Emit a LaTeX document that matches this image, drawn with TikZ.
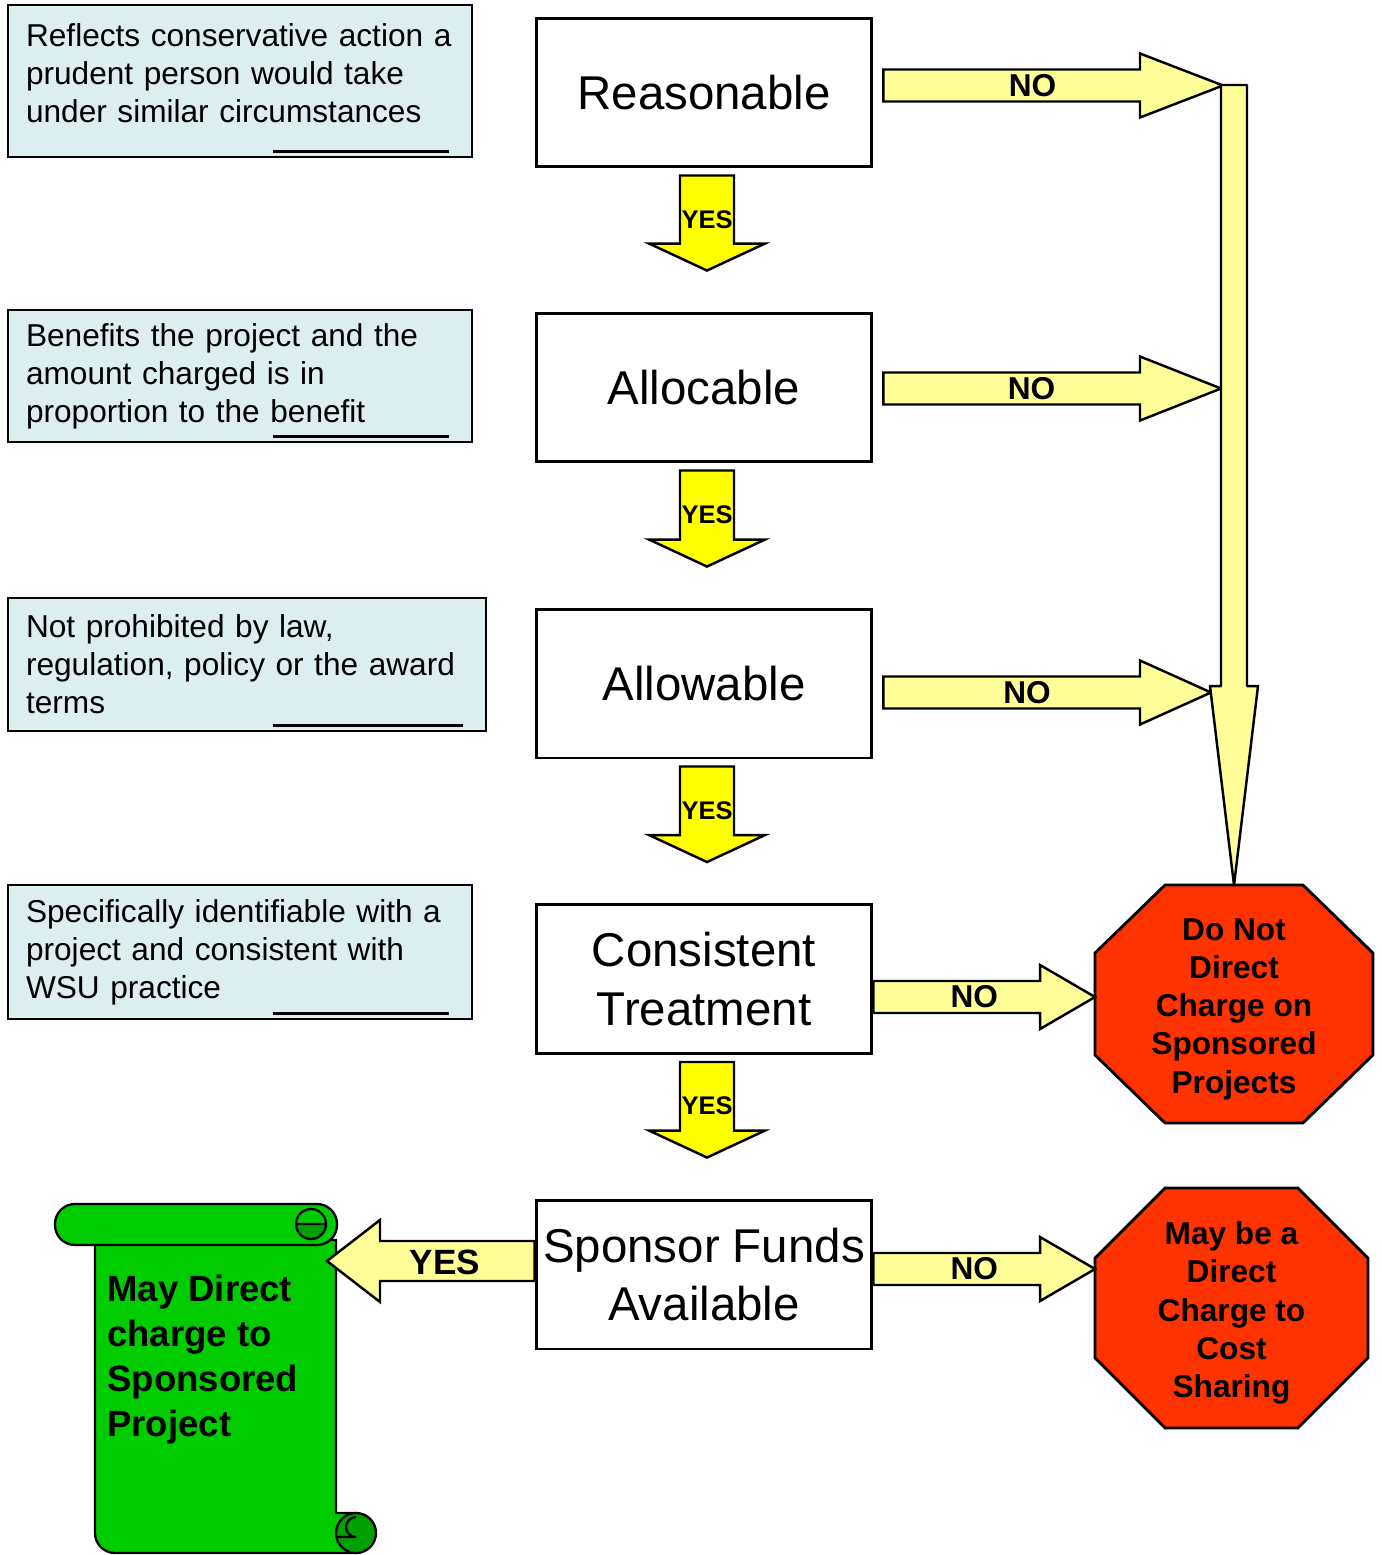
\documentclass[tikz,border=0pt]{standalone}
\usepackage{fontspec}
\setmainfont{Liberation Sans}
\usetikzlibrary{calc}
\definecolor{descblue}{RGB}{221,238,240}
\definecolor{yesyellow}{RGB}{255,255,0}
\definecolor{noyellow}{RGB}{255,255,153}
\definecolor{stopred}{RGB}{255,51,0}
\definecolor{scrollgreen}{RGB}{0,204,0}
\definecolor{curlgreen}{RGB}{0,160,0}

% down arrow between two test boxes
\newcommand{\yesdown}[2]{%
  \draw[yesblock] ($(#1.south)+(-24,7)$) -- ($(#1.south)+(30,7)$) -- ($(#2.north)+(30,-68)$)
    -- ($(#2.north)+(61,-68)$) -- ($(#2.north)+(3,-41)$) -- ($(#2.north)+(-55,-68)$)
    -- ($(#2.north)+(-24,-68)$) -- cycle;
  \node[yeslabel] (#1-yes) at ($(#1.south)+(3,51)$) {YES};}
% right arrow from a test box to a tip: node, tip, gap, head length
\newcommand{\noacross}[4]{%
  \draw[noblock] ($(#1.east |- #2)+(#3,-16)$) -- ($(#2)+(-#4,-16)$) -- ($(#2)+(-#4,-32)$) -- (#2)
    -- ($(#2)+(-#4,32)$) -- ($(#2)+(-#4,16)$) -- ($(#1.east |- #2)+(#3,16)$) -- cycle;
  \node[nolabel] (#1-no) at ($(#1.east |- #2)!0.455!(#2)$) {NO};}

\begin{document}
\begin{tikzpicture}[x=0.02cm, y=-0.02cm,
  descbox/.style={draw, line width=1.3pt, fill=descblue, minimum width=9.28cm,
                  text width=8.56cm, inner xsep=0.36cm, align=left,
                  font=\fontsize{18}{21.6}\selectfont},
  testbox/.style={draw, line width=1.7pt, fill=white, minimum width=6.72cm,
                  minimum height=2.98cm, inner xsep=0pt, align=center,
                  font=\fontsize{27}{33.4}\selectfont},
  stopbox/.style={inner sep=0pt, outer sep=0pt},
  stopsign/.style={draw, line width=1.6pt, fill=stopred},
  stoptext/.style={align=center, font=\bfseries\fontsize{18}{21.8}\selectfont},
  yesblock/.style={draw, line width=1.4pt, fill=yesyellow},
  noblock/.style={draw, line width=1.4pt, fill=noyellow},
  yeslabel/.style={font=\bfseries\fontsize{14.5}{16}\selectfont},
  nolabel/.style={font=\bfseries\fontsize{18}{20}\selectfont},
  uline/.style={line width=1.7pt},
  scroll/.style={draw, line width=1.3pt, fill=scrollgreen},
  curl/.style={draw, line width=1.3pt, fill=curlgreen},
]
  \path[use as bounding box, fill=white] (0,0) rectangle (1382,1555);

  % Descriptions
  \node[descbox, minimum height=3.04cm] (d1) at (240,81)
    {Reflects conservative action a\\prudent person would take\\under similar circumstances\\[-0.44cm]\mbox{}};
  \node[descbox, minimum height=2.64cm] (d2) at (240,376)
    {Benefits the project and the\\amount charged is in\\proportion to the benefit};
  \node[descbox, minimum width=9.56cm, text width=8.84cm, minimum height=2.66cm] (d3) at (247,664.5)
    {Not prohibited by law,\\regulation, policy or the award\\terms};
  \node[descbox, minimum height=2.68cm] (d4) at (240,952)
    {Specifically identifiable with a\\project and consistent with\\WSU practice};
  \foreach \d/\w in {d1/200,d2/200,d3/214,d4/200}
    \draw[uline] ($(\d.south east)+(-\w,-7)$) -- ($(\d.south east)+(-24,-7)$);

  % Tests
  \node[testbox] (reas) at (704,92.5) {Reasonable};
  \node[testbox] (alloc) at (704,387.5) {Allocable};
  \node[testbox] (allow) at (704,683.5) {Allowable};
  \node[testbox] (cons) at (704,979) {Consistent\\Treatment};
  \node[testbox] (spons) at (704,1274.5) {Sponsor Funds\\Available};

  % Outcomes
  \node[stopbox, minimum width=5.56cm, minimum height=4.76cm] (dnc) at (1234,1004) {};
  \node[stopbox, minimum width=5.46cm, minimum height=4.8cm] (mdc) at (1231.5,1308) {};
  \foreach \s/\c in {dnc/68,mdc/70}
    \draw[stopsign] ($(\s.north west)+(70,0)$) -- ($(\s.north east)+(-70,0)$)
      -- ($(\s.north east)+(0,\c)$) -- ($(\s.south east)+(0,-\c)$)
      -- ($(\s.south east)+(-70,0)$) -- ($(\s.south west)+(70,0)$)
      -- ($(\s.south west)+(0,-\c)$) -- ($(\s.north west)+(0,\c)$) -- cycle;
  \node[stoptext] (dnc-text) at ($(dnc)+(0,5)$) {Do Not\\Direct\\Charge on\\Sponsored\\Projects};
  \node[stoptext] (mdc-text) at ($(mdc)+(0,5)$) {May be a\\Direct\\Charge to\\Cost\\Sharing};

  % YES arrows
  \yesdown{reas}{alloc}
  \yesdown{alloc}{allow}
  \yesdown{allow}{cons}
  \yesdown{cons}{spons}

  % NO arrows
  \coordinate (merge) at (1234,85);
  \coordinate (t1) at ($(reas.east -| merge)+(-11,-7)$);
  \coordinate (t2) at ($(alloc.east -| merge)+(-13,1)$);
  \coordinate (t3) at ($(allow.east -| merge)+(-23,9)$);
  \coordinate (t4) at ($(dnc.west)+(0,-7)$);
  \coordinate (t5) at ($(mdc.west)+(0,-39)$);
  \noacross{reas}{t1}{10}{83}
  \noacross{alloc}{t2}{10}{81}
  \noacross{allow}{t3}{10}{71}
  \noacross{cons}{t4}{0}{55}
  \noacross{spons}{t5}{0}{55}
  \draw[noblock, line join=round] ($(merge)+(-13,0)$) -- ($(merge)+(13,0)$) -- ($(dnc.north)+(13,-199)$)
    -- ($(dnc.north)+(24,-199)$) -- (dnc.north) -- ($(dnc.north)+(-24,-199)$)
    -- ($(dnc.north)+(-13,-199)$) -- cycle;

  % Scroll
  \draw[scroll] (95,1240) -- (95,1533) arc[start angle=180, end angle=90, radius=20]
    -- (356,1553) -- (356,1513) -- (336,1513) -- (336,1240) -- cycle;
  \draw[curl] (356,1533) circle[radius=20];
  \draw[line width=1.3pt] (336,1537) -- (356,1537) arc[start angle=90, end angle=270, radius=10];
  \draw[scroll, rounded corners=0.4cm] (55,1204) rectangle (337,1245);
  \draw[curl] (296,1224) arc[start angle=180, end angle=0, radius=15] -- cycle;
  \draw[line width=1.3pt] (326,1224) arc[start angle=0, end angle=-180, radius=15];
  \node[anchor=north west, inner sep=0pt, align=left,
        font=\bfseries\fontsize{20.8}{25.5}\selectfont] (may) at (107,1275)
    {May Direct\\charge to\\Sponsored\\Project};

  % YES to scroll
  \coordinate (t6) at (327,1261);
  \draw[noblock] ($(spons.west |- t6)+(0,-20)$) -- ($(t6)+(53,-20)$) -- ($(t6)+(53,-41)$) -- (t6)
    -- ($(t6)+(53,41)$) -- ($(t6)+(53,20)$) -- ($(spons.west |- t6)+(0,20)$) -- cycle;
  \node[font=\bfseries\fontsize{20}{24}\selectfont] (spons-yes) at (445,1262) {YES};
\end{tikzpicture}
\end{document}
